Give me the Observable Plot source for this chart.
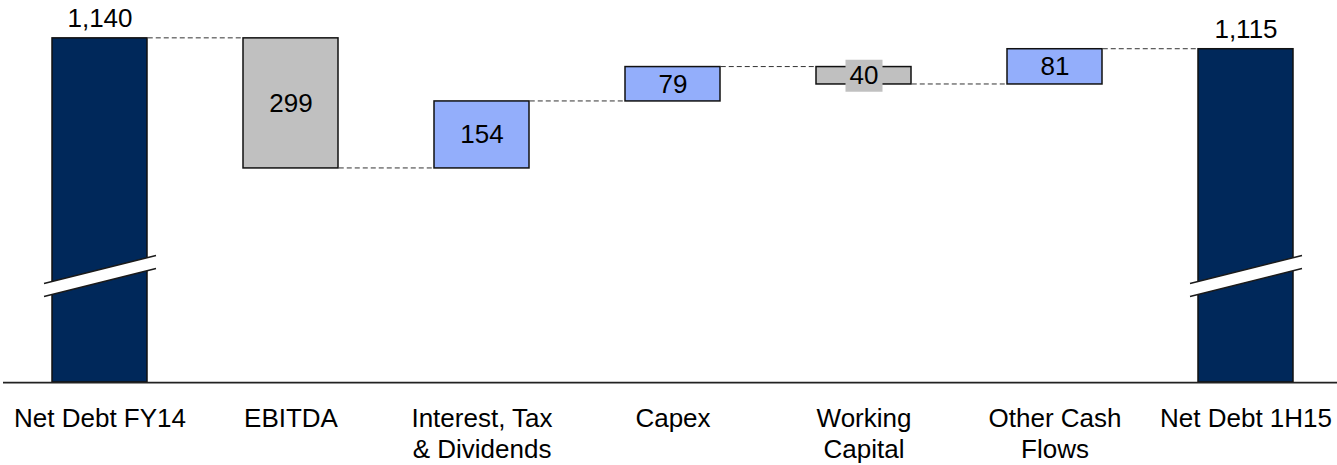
<!DOCTYPE html>
<html>
<head>
<meta charset="utf-8">
<script src="https://cdn.jsdelivr.net/npm/d3@7"></script>
<script src="https://cdn.jsdelivr.net/npm/@observablehq/plot@0.6"></script>
<style>
  html, body { margin: 0; padding: 0; background: #fff; }
  #chart svg { display: block; }
</style>
</head>
<body>
<div id="chart"></div>
<script>
// ---- data ----
const categories = ["Net Debt FY14", "EBITDA", "Interest, Tax\n& Dividends", "Capex", "Working\nCapital", "Other Cash\nFlows", "Net Debt 1H15"];
const values = [1140, -299, 154, 79, -40, 81, 1115];
const kinds = ["total", "decrease", "increase", "increase", "decrease", "increase", "total"];
const valueLabels = ["1,140", "299", "154", "79", "40", "81", "1,115"];
const yDomain = [349, 1227];     // truncated value axis
const breakValue = 594;          // where the axis break is drawn on total bars

// ---- derived rows ----
const colors = {total: "#00285a", decrease: "#c0c0c0", increase: "#93aefb"};
let running = 0;
const rows = categories.map((cat, i) => {
  let lo, hi, start, end;
  if (kinds[i] === "total") {
    end = values[i]; running = values[i];
    lo = yDomain[0]; hi = values[i];
  } else {
    start = running; end = running + values[i]; running = end;
    lo = Math.min(start, end); hi = Math.max(start, end);
  }
  return {cat, kind: kinds[i], value: values[i], label: valueLabels[i], lo, hi, mid: (lo + hi) / 2, end};
});
const connectors = rows.slice(0, -1).map((r, i) => ({from: r.cat, to: rows[i + 1].cat, y: r.end}));
const totals = rows.filter(r => r.kind === "total");
const steps = rows.filter(r => r.kind !== "total");
const smallSteps = steps.filter(r => Math.abs(r.value) < 50);

// custom symbols
const boxSymbol = {draw(ctx, size) {
  const r = Math.sqrt(size / Math.PI);
  const h = r * 32 / 37;
  ctx.rect(-r, -h, 2 * r, 2 * h);
}};
const breakFill = {draw(ctx, size) {
  const W = Math.sqrt(size / Math.PI), s = 0.25, h = 6.5;
  ctx.moveTo(-W, W * s - h);
  ctx.lineTo(W, -W * s - h);
  ctx.lineTo(W, -W * s + h);
  ctx.lineTo(-W, W * s + h);
  ctx.closePath();
}};
const breakLines = {draw(ctx, size) {
  const W = Math.sqrt(size / Math.PI), s = 0.25, h = 6.5;
  ctx.moveTo(-W, W * s - h);
  ctx.lineTo(W, -W * s - h);
  ctx.moveTo(-W, W * s + h);
  ctx.lineTo(W, -W * s + h);
}};

// connector mark: dashed lines from right edge of a bar to left edge of the next, via the plot scales
function connectorMark(index, scales) {
  const sx = scales.x, sy = scales.y;
  let bw = typeof sx.bandwidth === "function" ? sx.bandwidth() : sx.bandwidth;
  if (bw == null && scales.scales && scales.scales.x) bw = scales.scales.x.bandwidth;
  const g = d3.create("svg:g");
  for (const c of connectors) {
    const y = sy(c.y);
    g.append("line")
      .attr("x1", sx(c.from) + bw + 0.75)
      .attr("x2", sx(c.to) - 0.75)
      .attr("y1", y).attr("y2", y)
      .attr("stroke", "#333")
      .attr("stroke-width", 1)
      .attr("stroke-dasharray", "5,3");
  }
  return g.node();
}

const font = "'Liberation Sans', Arial, Helvetica, sans-serif";

const chart = Plot.plot({
  width: 1337,
  height: 465,
  marginTop: 0,
  marginBottom: 83,
  marginLeft: 0,
  marginRight: 0,
  style: {fontFamily: font, fontSize: "26px", color: "#000", background: "#fff"},
  x: {domain: categories, range: [4.25, 1340.75], paddingInner: 0.503, paddingOuter: 0.25},
  y: {domain: yDomain, axis: null},
  marks: [
    connectorMark,
    Plot.barY(rows, {x: "cat", y1: "lo", y2: "hi", fill: d => colors[d.kind], stroke: "#111", strokeWidth: 1.5}),
    Plot.dot(totals, {x: "cat", y: () => breakValue, symbol: breakFill, r: 56, fill: "#fff", stroke: "none"}),
    Plot.dot(totals, {x: "cat", y: () => breakValue, symbol: breakLines, r: 56, fill: "none", stroke: "#1a1a1a", strokeWidth: 1.5}),
    Plot.dot(smallSteps, {x: "cat", y: "mid", symbol: boxSymbol, r: 18.5, fill: "#c0c0c0", stroke: "none"}),
    Plot.text(steps, {x: "cat", y: "mid", text: "label", fontSize: 26, fill: "#000", lineAnchor: "middle"}),
    Plot.text(totals, {x: "cat", y: "hi", text: "label", fontSize: 26, fill: "#000", lineAnchor: "middle", dy: -20}),
    Plot.ruleY([yDomain[0]], {stroke: "#222", strokeWidth: 1.75, insetLeft: 3}),
    Plot.axisX({tickSize: 0, tickPadding: 22, fontSize: 26, lineHeight: 1.2, fill: "#000", label: null})
  ]
});
document.getElementById("chart").appendChild(chart);
</script>
</body>
</html>
